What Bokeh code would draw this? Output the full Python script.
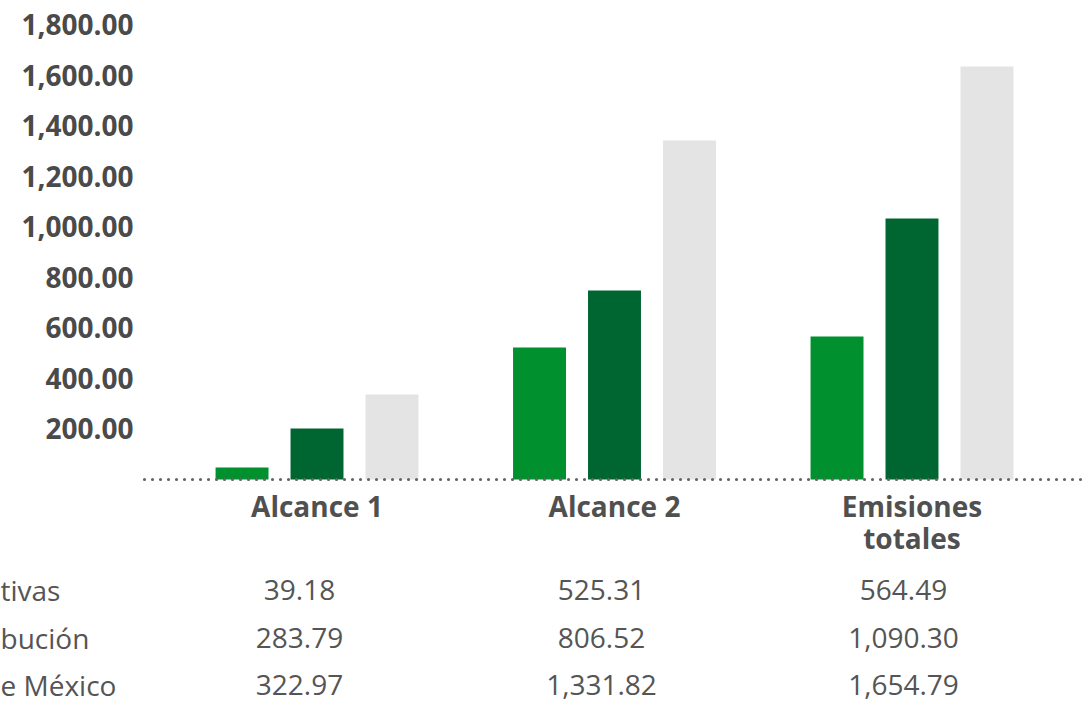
from bokeh.plotting import figure
from bokeh.models import (ColumnDataSource, Range1d, FixedTicker, NumeralTickFormatter,
                          LinearAxis)
from bokeh.transform import dodge
from bokeh.core.properties import value
from bokeh.embed import file_html
from bokeh.resources import INLINE

# ---- data ----
categories = ["Alcance 1", "Alcance 2", "Emisiones\ntotales"]
series_names = ["tivas", "bución", "e México"]
serie_1 = [47, 522, 566]
serie_2 = [202, 748, 1032]
serie_3 = [336, 1341, 1634]
table_values = [
    ["39.18", "525.31", "564.49"],
    ["283.79", "806.52", "1,090.30"],
    ["322.97", "1,331.82", "1,654.79"],
]
y_ticks = [200, 400, 600, 800, 1000, 1200, 1400, 1600, 1800]

colors = ["#00912E", "#006631", "#E4E4E4"]
FONT = "Open Sans"
TEXT = "#4a4a4a"

# layout constants (frame covers the whole canvas)
AXIS_X = -0.5798      # x position of the value axis (left end of the baseline)
BASE_Y = -2           # y position of the category axis

src = ColumnDataSource(dict(x=list(range(len(categories))), s1=serie_1, s2=serie_2, s3=serie_3))

p = figure(width=1083, height=703, output_backend="svg", toolbar_location=None,
           x_range=Range1d(-1.0639, 2.5765), y_range=Range1d(-886.1, 1894.8),
           x_axis_type=None, y_axis_type=None,
           min_border_left=0, min_border_right=0, min_border_top=0, min_border_bottom=0)
p.outline_line_color = None
p.xgrid.visible = False
p.ygrid.visible = False
p.extra_x_ranges = {"tbl": Range1d(-0.990, 2.596)}
p.extra_y_ranges = {"tbl": Range1d(2.379, -12.421)}

for key, off, col in [("s1", -0.252, colors[0]), ("s2", 0.0, colors[1]), ("s3", 0.252, colors[2])]:
    p.vbar(x=dodge("x", off), top=key, bottom=0, width=0.178, source=src,
           fill_color=col, line_color=None)

# dotted baseline
p.segment(x0=[AXIS_X], x1=[p.x_range.end], y0=[0], y1=[0], line_color="#666666",
          line_width=3.2, line_dash="0 8", line_cap="round")

# value axis
yax = LinearAxis(fixed_location=AXIS_X, ticker=FixedTicker(ticks=y_ticks),
                 formatter=NumeralTickFormatter(format="0,0.00"))
yax.axis_line_color = None
yax.major_tick_line_color = None
yax.minor_tick_line_color = None
yax.major_label_text_font = FONT
yax.major_label_text_font_style = "bold"
yax.major_label_text_font_size = "28px"
yax.major_label_text_color = TEXT
yax.major_label_standoff = 5
p.add_layout(yax, "left")

# category axis
xax = LinearAxis(fixed_location=BASE_Y, ticker=FixedTicker(ticks=list(range(len(categories)))))
xax.major_label_overrides = {i: c for i, c in enumerate(categories)}
xax.axis_line_color = None
xax.major_tick_line_color = None
xax.minor_tick_line_color = None
xax.major_label_text_font = FONT
xax.major_label_text_font_style = "bold"
xax.major_label_text_font_size = "28px"
xax.major_label_text_color = "#505050"
xax.major_label_text_line_height = 0.85
xax.major_label_standoff = 1
p.add_layout(xax, "below")

# ---- table under the chart ----
tx, ty, tt = [], [], []
for r, row in enumerate(table_values):
    for c, v in enumerate(row):
        tx.append(c); ty.append(r); tt.append(v)
p.text(x=tx, y=ty, text=tt, x_range_name="tbl", y_range_name="tbl",
       text_align="center", text_baseline="middle",
       text_font=value(FONT), text_font_size="28px", text_color="#555555")
p.text(x=[p.extra_x_ranges["tbl"].start] * len(series_names), y=list(range(len(series_names))),
       text=series_names, x_range_name="tbl", y_range_name="tbl",
       text_align="left", text_baseline="middle",
       text_font=value(FONT), text_font_size="28px", text_color="#555555")

open("out.html", "w").write(file_html(p, INLINE))
